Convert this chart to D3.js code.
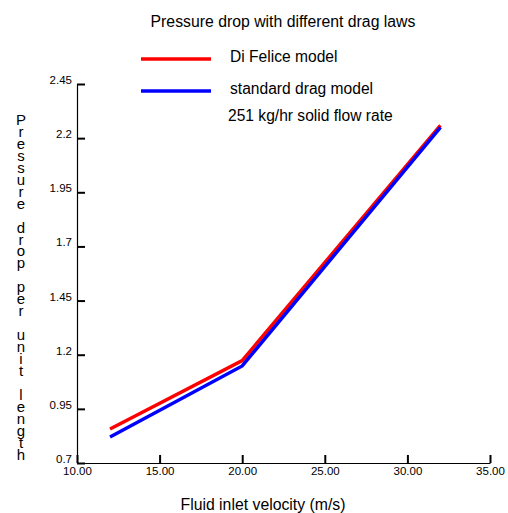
<!DOCTYPE html>
<meta charset="utf-8">
<style>
  body { margin: 0; background: #fff; }
  text { font-family: "Liberation Sans", Arial, sans-serif; }
</style>
<script src="https://d3js.org/d3.v7.min.js"></script>
<div id="chart"></div>
<script>
  // data
  var velocity = [12, 20, 32];
  var diFelice = [0.857, 1.173, 2.259];
  var standardDrag = [0.82, 1.148, 2.25];
  var xTicks = [10, 15, 20, 25, 30, 35];
  var yTicks = [0.7, 0.95, 1.2, 1.45, 1.7, 1.95, 2.2, 2.45];
  var seriesNames = ["Di Felice model", "standard drag model"];
  var seriesColors = ["#ff0000", "#0000ff"];

  var width = 508, height = 513;
  var margin = {top: 84, right: 18, bottom: 50, left: 77};

  var svg = d3.select("#chart")
    .append("svg")
    .attr("width", width)
    .attr("height", height);

  var x = d3.scaleLinear()
    .domain([10, 35])
    .range([margin.left, width - margin.right]);

  var y = d3.scaleLinear()
    .domain([0.7, 2.45])
    .range([height - margin.bottom, margin.top]);

  // axes, ticks pointing inward
  var xAxis = svg.append("g")
    .attr("transform", "translate(0," + y(0.7) + ")")
    .call(d3.axisBottom(x)
      .tickValues(xTicks)
      .tickFormat(d3.format(".2f"))
      .tickSizeInner(-8)
      .tickSizeOuter(0)
      .tickPadding(4));
  xAxis.selectAll("line").attr("stroke-width", 2);
  xAxis.selectAll("text").attr("font-size", 11.5).attr("fill", "#000");

  var yAxis = svg.append("g")
    .attr("transform", "translate(" + x(10) + ",0)")
    .call(d3.axisLeft(y)
      .tickValues(yTicks)
      .tickFormat(function (d) { return String(d); })
      .tickSizeInner(-8)
      .tickSizeOuter(0)
      .tickPadding(5));
  yAxis.selectAll("line").attr("stroke-width", 2);
  yAxis.selectAll("text")
    .attr("font-size", 11.5)
    .attr("fill", "#000")
    .attr("dy", "-0.05em");
  yAxis.select(".domain").attr("stroke-width", 1.2);
  xAxis.select(".domain").attr("stroke-width", 1.2);

  // lines
  var line = d3.line()
    .x(function (d) { return x(d[0]); })
    .y(function (d) { return y(d[1]); });

  [diFelice, standardDrag].forEach(function (vals, i) {
    svg.append("path")
      .datum(velocity.map(function (v, j) { return [v, vals[j]]; }))
      .attr("fill", "none")
      .attr("stroke", seriesColors[i])
      .attr("stroke-width", 3.5)
      .attr("d", line);
  });

  // title
  svg.append("text")
    .attr("x", 283)
    .attr("y", 27)
    .attr("text-anchor", "middle")
    .attr("font-size", 15.8)
    .text("Pressure drop with different drag laws");

  // legend
  seriesNames.forEach(function (name, i) {
    var ly = 59 + i * 32;
    svg.append("line")
      .attr("x1", 141).attr("x2", 211)
      .attr("y1", ly).attr("y2", ly)
      .attr("stroke", seriesColors[i])
      .attr("stroke-width", 3.5);
    svg.append("text")
      .attr("x", 230)
      .attr("y", ly + 3)
      .attr("font-size", 15.6)
      .text(name);
  });

  svg.append("text")
    .attr("x", 228)
    .attr("y", 121)
    .attr("font-size", 15.6)
    .text("251 kg/hr solid flow rate");

  // x axis title
  svg.append("text")
    .attr("x", 263)
    .attr("y", 510)
    .attr("text-anchor", "middle")
    .attr("font-size", 15.8)
    .text("Fluid inlet velocity (m/s)");

  // y axis title, letters stacked vertically
  var yLabel = "Pressure drop per unit length";
  svg.append("text")
    .attr("font-size", 15)
    .attr("text-anchor", "middle")
    .selectAll("tspan")
    .data(yLabel.split(""))
    .enter()
    .append("tspan")
    .attr("x", 21)
    .attr("y", function (d, i) { return 125 + i * 11.95; })
    .text(function (d) { return d === " " ? "\u00a0" : d; });
</script>
